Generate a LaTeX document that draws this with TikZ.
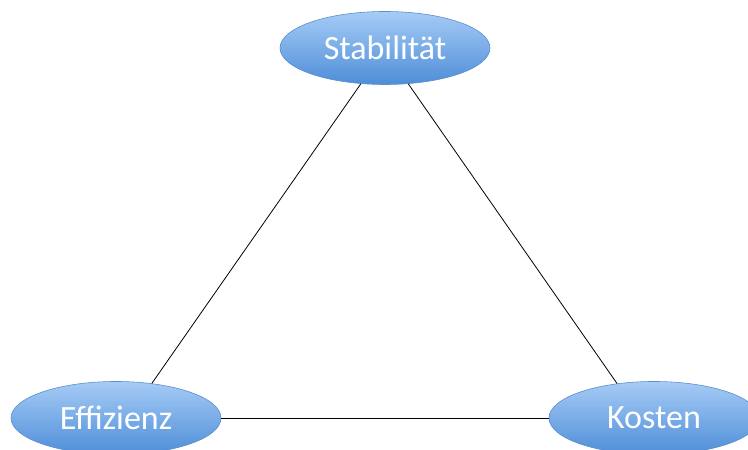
\documentclass[tikz,border=0pt]{standalone}
\usepackage{fontspec}
\setmainfont{Carlito}
\usepackage{tikz}
\usetikzlibrary{shapes.geometric}
\definecolor{ovTop}{HTML}{A6CBF6}
\definecolor{ovBot}{HTML}{4E8ED8}
\definecolor{ovEdge}{HTML}{5B8FCC}

\begin{document}
\begin{tikzpicture}[x=1pt, y=1pt,
  goal/.style={ellipse, draw=ovEdge, line width=0.6pt, top color=ovTop, bottom color=ovBot,
               minimum width=210pt, minimum height=73pt, inner sep=0pt,
               text=white, font=\fontsize{34}{36}\selectfont},
  link/.style={draw=black, line width=0.8pt},
]
  \clip (0,0) rectangle (748,450);
  \node[goal] (stab) at (385,402) {Stabilität};
  \node[goal] (eff) at (116,32) {Effizienz};
  \node[goal] (kost) at (654,32) {Kosten};

  \draw[link] (stab.236) -- (eff.44);
  \draw[link] (stab.303) -- (kost.137);
  \draw[link] (eff) -- (kost);
\end{tikzpicture}
\end{document}
